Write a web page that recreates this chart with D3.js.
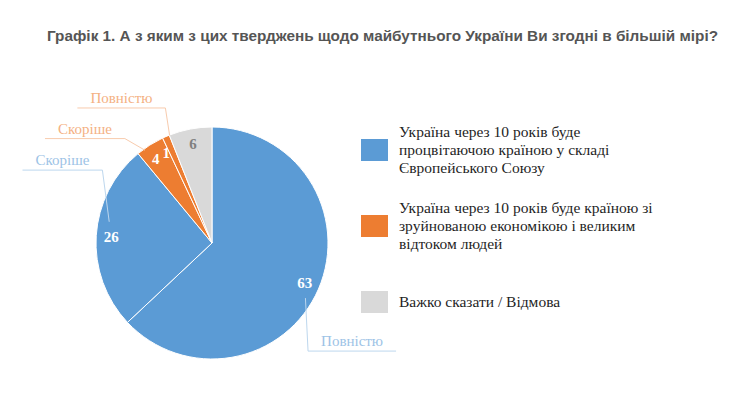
<!DOCTYPE html>
<html>
<head>
<meta charset="utf-8">
<script src="https://cdn.jsdelivr.net/npm/d3@7/dist/d3.min.js"></script>
<style>
    body { margin: 0; background: #fff; }
    svg { display: block; }
</style>
</head>
<body>
<svg class="chart" width="740" height="420"></svg>
<script>

const title = 'Графік 1. А з яким з цих тверджень щодо майбутнього України Ви згодні в більшій мірі?';

// legend categories
const categories = [
    ['Україна через 10 років буде', 'процвітаючою країною у складі', 'Європейського Союзу'],
    ['Україна через 10 років буде країною зі', 'зруйнованою економікою і великим', 'відтоком людей'],
    ['Важко сказати / Відмова']
];

// slices, clockwise from 12 o'clock
const sliceValues   = [63, 26, 4, 1, 6];
const sliceCategory = [0, 0, 1, 1, 2];
const sliceNames    = ['Повністю', 'Скоріше', 'Скоріше', 'Повністю', ''];

const colors      = ['#5b9bd5', '#ed7d31', '#d9d9d9'];
const nameColors  = ['#9dc3e6', '#f4b183', '#bfbfbf'];
const lineColors  = ['#bdd7ee', '#f8cbad', '#d9d9d9'];
const valueColors = ['#ffffff', '#ffffff', '#808080'];

const serif = '"Liberation Serif", "Times New Roman", serif';

const svg = d3.select('.chart');

svg.append('text')
    .attr('x', 47)
    .attr('y', 41)
    .attr('font-family', '"Liberation Sans", Arial, sans-serif')
    .attr('font-weight', 'bold')
    .attr('font-size', 14)
    .attr('fill', '#555')
    .attr('textLength', 671)
    .attr('lengthAdjust', 'spacingAndGlyphs')
    .text(title);

// pie
const cx = 212, cy = 243, R = 116;

const pie = d3.pie().sort(null).value(d => d);
const arcs = pie(sliceValues);

const arc = d3.arc().innerRadius(0).outerRadius(R);
const labelArc = d3.arc().innerRadius(101).outerRadius(101);

const g = svg.append('g').attr('transform', `translate(${cx},${cy})`);

g.selectAll('path.slice')
    .data(arcs)
    .join('path')
    .classed('slice', true)
    .attr('d', arc)
    .attr('fill', (d, i) => colors[sliceCategory[i]])
    .attr('stroke', '#fff')
    .attr('stroke-width', 1);

// outer name labels (angles as placed in the original)
const nameAngle = [125, 299, 312, 328];
const nameRadius = 171;

const names = arcs.map((d, i) => ({ d, i })).filter(o => sliceNames[o.i] !== '');

const nameG = g.selectAll('g.name')
    .data(names)
    .join('g')
    .classed('name', true);

nameG.each(function(o, k) {

    const sel = d3.select(this);
    const a = nameAngle[k] * Math.PI / 180;
    const x = nameRadius * Math.sin(a);
    const y = -nameRadius * Math.cos(a);
    const cat = sliceCategory[o.i];

    const t = sel.append('text')
        .attr('x', x)
        .attr('y', y)
        .attr('dy', '0.35em')
        .attr('text-anchor', 'middle')
        .attr('font-family', serif)
        .attr('font-size', 15)
        .attr('fill', nameColors[cat])
        .text(sliceNames[o.i]);

    const w = t.node().getComputedTextLength();
    const pad = 13;
    const ly = y + 10;
    const x0 = x - w / 2 - pad, x1 = x + w / 2 + pad;
    const right = x > 0;
    const nearX = right ? x0 : x1;

    const c = labelArc.centroid(o.d);
    const dx = nearX - c[0], dy = ly - c[1];
    const len = Math.sqrt(dx * dx + dy * dy);
    const ix = c[0] + dx / len * 15, iy = c[1] + dy / len * 15;

    sel.insert('path', 'text')
        .attr('d', `M${x0},${ly}L${x1},${ly}M${nearX},${ly}L${ix},${iy}`)
        .attr('fill', 'none')
        .attr('stroke', lineColors[cat])
        .attr('stroke-width', 1);

});

// values inside slices; the two thin orange ones sit a little to the left like in the original
const valueNudge = [0, 0, -1.5, -3.5, 0];

g.selectAll('text.value')
    .data(arcs)
    .join('text')
    .classed('value', true)
    .attr('transform', (d, i) => {
        const a = (d.startAngle + d.endAngle) / 2 + valueNudge[i] * Math.PI / 180;
        return `translate(${101 * Math.sin(a)},${-101 * Math.cos(a)})`;
    })
    .attr('dy', '0.35em')
    .attr('text-anchor', 'middle')
    .attr('font-family', serif)
    .attr('font-weight', 'bold')
    .attr('font-size', 15)
    .attr('fill', (d, i) => valueColors[sliceCategory[i]])
    .text(d => d.data);

// legend
const legendY = d3.scaleLinear().domain([0, 1]).range([150, 226]);
const lineH = 18;

const leg = svg.selectAll('g.legend')
    .data(categories)
    .join('g')
    .classed('legend', true)
    .attr('transform', (d, i) => `translate(361,${legendY(i)})`);

leg.append('rect')
    .attr('x', 0)
    .attr('y', -11)
    .attr('width', 27)
    .attr('height', 22)
    .attr('fill', (d, i) => colors[i]);

leg.append('text')
    .attr('font-family', serif)
    .attr('font-size', 15.5)
    .attr('fill', '#1f1f1f')
    .selectAll('tspan')
    .data(d => d.map((s, j) => ({ s, j, n: d.length })))
    .join('tspan')
    .attr('x', 38)
    .attr('y', o => (o.j - (o.n - 1) / 2) * lineH)
    .attr('dy', '0.35em')
    .text(o => o.s);

</script>
</body>
</html>
